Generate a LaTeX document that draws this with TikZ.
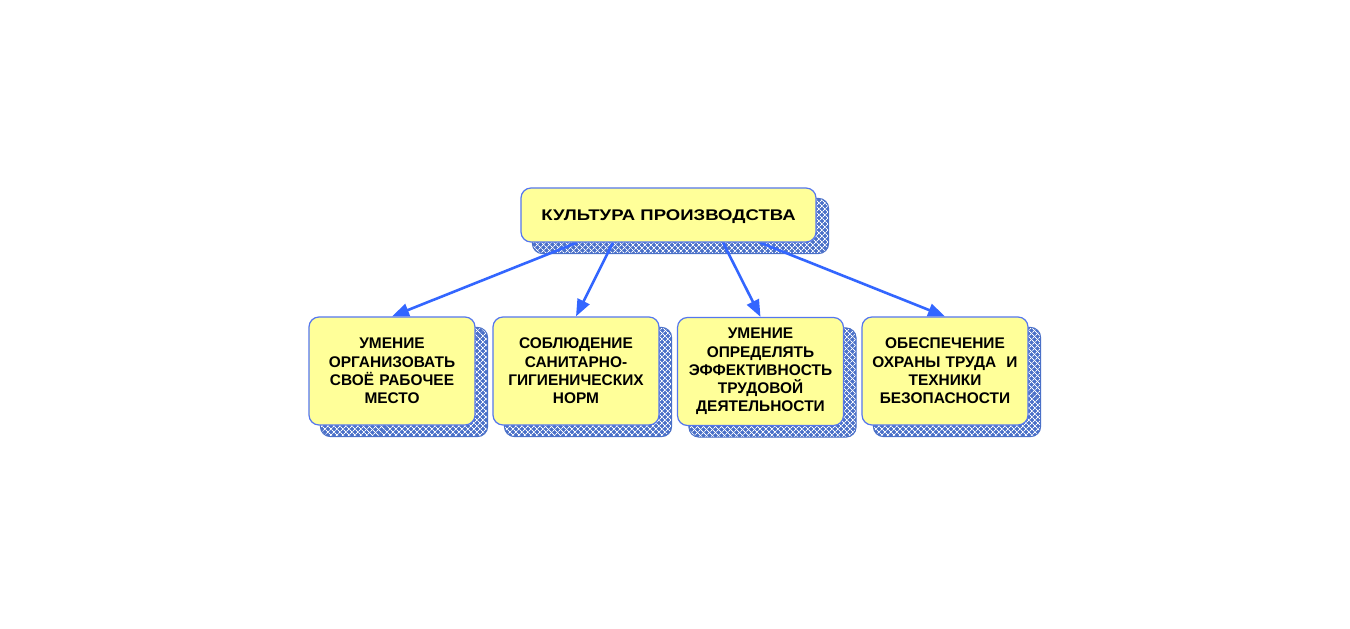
\documentclass[tikz,border=0pt]{standalone}
\usepackage{fontspec}
\setmainfont{Liberation Sans}
\newfontfamily\widefont[FakeStretch=1.2]{Liberation Sans}
\usetikzlibrary{arrows.meta,patterns.meta}
\pgfdeclarelayer{paper}
\pgfdeclarelayer{under}
\pgfsetlayers{paper,under,main}
\definecolor{boxfill}{HTML}{FFFF99}
\definecolor{boxline}{HTML}{5577EE}
\definecolor{shadowblue}{RGB}{74,112,200}
\definecolor{arrowblue}{HTML}{3366FF}
\tikzset{
  box/.style={draw=boxline, line width=1.2bp, fill=boxfill, rounded corners=10bp,
    inner sep=0pt, align=center, font=\bfseries\fontsize{15.5}{18.3}\selectfont},
  smallbox/.style={box, minimum width=166bp, minimum height=108bp, text width=162bp},
  conn/.style={draw=arrowblue, line width=2.6bp, -{Triangle[length=17bp,width=13bp]}},
}
\newcommand{\myshadow}[1]{%
  \fill[shadowblue, rounded corners=10bp]
    ([shift={(12,11)}]#1.south west) rectangle ([shift={(12,11)}]#1.north east);
  \path[pattern={Lines[angle=45,distance=3.9bp,line width=1bp]}, pattern color=white, rounded corners=10bp]
    ([shift={(12,11)}]#1.south west) rectangle ([shift={(12,11)}]#1.north east);
  \path[pattern={Lines[angle=-45,distance=3.9bp,line width=1bp]}, pattern color=white, rounded corners=10bp]
    ([shift={(12,11)}]#1.south west) rectangle ([shift={(12,11)}]#1.north east);
  \draw[shadowblue, line width=1bp, rounded corners=10bp]
    ([shift={(12,11)}]#1.south west) rectangle ([shift={(12,11)}]#1.north east);
}
\begin{document}
\begin{tikzpicture}[x=1bp,y=-1bp]
\begin{pgfonlayer}{paper}
\fill[white] (0,0) rectangle (1350,629);
\end{pgfonlayer}
\useasboundingbox (0,0) rectangle (1350,629);
\node[box, minimum width=295bp, minimum height=54bp, text height=11.2bp, text depth=0bp] (top) at (668.5,215) {\widefont КУЛЬТУРА ПРОИЗВОДСТВА};
\node[smallbox] (b1) at (392,371) {УМЕНИЕ\\ОРГАНИЗОВАТЬ\\СВОЁ РАБОЧЕЕ\\МЕСТО};
\node[smallbox] (b2) at (576,371) {СОБЛЮДЕНИЕ\\САНИТАРНО-\\ГИГИЕНИЧЕСКИХ\\НОРМ};
\node[smallbox] (b3) at (760.5,371.5) {УМЕНИЕ\\ОПРЕДЕЛЯТЬ\\ЭФФЕКТИВНОСТЬ\\ТРУДОВОЙ\\ДЕЯТЕЛЬНОСТИ};
\node[smallbox] (b4) at (945,371) {ОБЕСПЕЧЕНИЕ\\ОХРАНЫ ТРУДА\ \ И\\ТЕХНИКИ\\БЕЗОПАСНОСТИ};
\coordinate (s1) at ([xshift=-91.5bp]top.south);
\coordinate (s2) at ([xshift=-55.5bp]top.south);
\coordinate (s3) at ([xshift=54.5bp]top.south);
\coordinate (s4) at ([xshift=91.5bp]top.south);
\begin{pgfonlayer}{under}
  \myshadow{top}
  \myshadow{b1}
  \myshadow{b2}
  \myshadow{b3}
  \myshadow{b4}
  \draw[conn] (s1) -- (b1.north);
  \draw[conn] (s2) -- (b2.north);
  \draw[conn] (s3) -- (b3.north);
  \draw[conn] (s4) -- (b4.north);
\end{pgfonlayer}
\end{tikzpicture}
\end{document}
